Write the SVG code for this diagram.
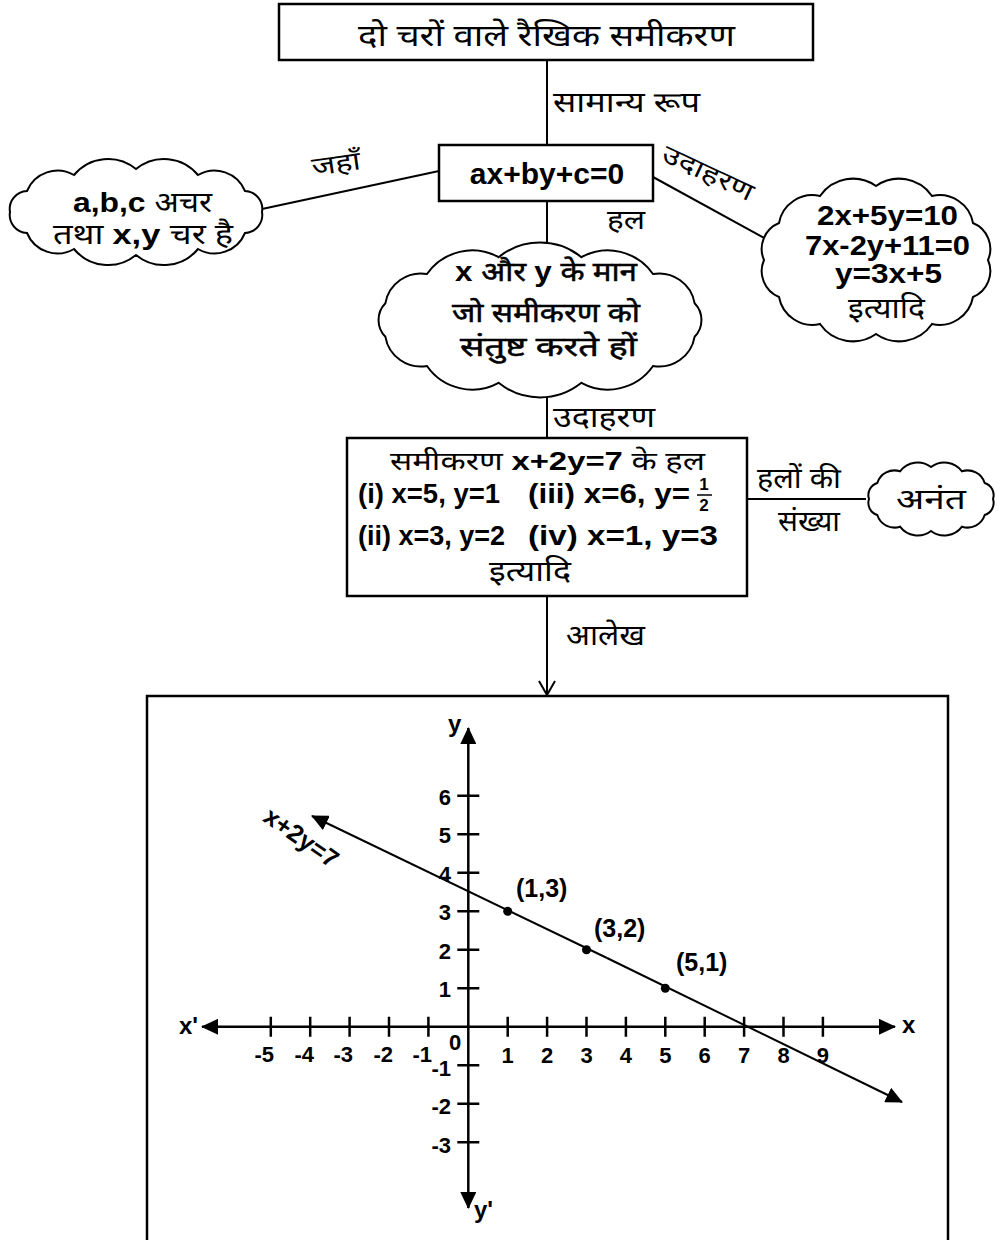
<svg xmlns="http://www.w3.org/2000/svg" width="1004" height="1240" viewBox="0 0 1004 1240">
<style>
.box{fill:#fff;stroke:#000;stroke-width:2.5}
.cloud{fill:#fff;stroke:#000;stroke-width:2}
.ln{stroke:#000;stroke-width:2;fill:none}
.ax{stroke:#000;stroke-width:2.5;fill:none}
.hi{font-family:"Noto Sans Devanagari","Lohit Devanagari","Noto Sans",sans-serif;fill:#000}
.hb{font-family:"Noto Sans Devanagari","Lohit Devanagari","Noto Sans",sans-serif;fill:#000;stroke:#000;stroke-width:0.5}
.la{font-family:"Liberation Sans",Arial,sans-serif;font-weight:bold;fill:#000}
.tk{font-family:"Liberation Sans",Arial,sans-serif;font-weight:bold;font-size:22px;fill:#000}
</style>
<defs>
<marker id="tri" viewBox="0 0 17 16" refX="16" refY="8" markerWidth="17" markerHeight="16" markerUnits="userSpaceOnUse" orient="auto">
<path d="M0,0 L17,8 L0,16 Z" fill="#000"/>
</marker>
</defs>

<g id="connectors">
<line class="ln" x1="547" y1="60" x2="547" y2="145"/>
<line class="ln" x1="439" y1="171" x2="262" y2="209"/>
<line class="ln" x1="653" y1="177" x2="768" y2="240"/>
<line class="ln" x1="547" y1="201" x2="547" y2="244"/>
<line class="ln" x1="547" y1="396" x2="547" y2="438"/>
<line class="ln" x1="747" y1="499" x2="866" y2="499"/>
<line class="ln" x1="547" y1="596" x2="547" y2="695"/>
<path class="ln" d="M539,681 L547,695 L555,681"/>
<text class="hi" x="553" y="112" font-size="28" textLength="147" lengthAdjust="spacingAndGlyphs">सामान्य रूप</text>
<text class="hi" x="313" y="176" font-size="26" textLength="49" lengthAdjust="spacingAndGlyphs" transform="rotate(-8 313 176)">जहाँ</text>
<text class="hi" x="660" y="160" font-size="25" textLength="98" lengthAdjust="spacingAndGlyphs" transform="rotate(25 660 160)">उदाहरण</text>
<text class="hi" x="607" y="229" font-size="27" textLength="38" lengthAdjust="spacingAndGlyphs">हल</text>
<text class="hi" x="553" y="427" font-size="28" textLength="102" lengthAdjust="spacingAndGlyphs">उदाहरण</text>
<text class="hi" x="757" y="488" font-size="28" textLength="84" lengthAdjust="spacingAndGlyphs">हलों की</text>
<text class="hi" x="778" y="531" font-size="28" textLength="62" lengthAdjust="spacingAndGlyphs">संख्या</text>
<text class="hi" x="566" y="645" font-size="28" textLength="79" lengthAdjust="spacingAndGlyphs">आलेख</text>
</g>

<g id="node-title">
<rect class="box" x="279" y="4" width="534" height="56"/>
<text class="hi" x="358" y="46" font-size="30" textLength="377" lengthAdjust="spacingAndGlyphs">दो चरों वाले रैखिक समीकरण</text>
</g>

<g id="node-general">
<rect class="box" x="439" y="145" width="214" height="56"/>
<text class="la" x="547" y="184" font-size="30" text-anchor="middle">ax+by+c=0</text>
</g>

<g id="node-where">
<path class="cloud" d="M10,212 A18,18 0 0 1 27,191 A33,33 0 0 1 74,175 A44,44 0 0 1 136,169 A44,44 0 0 1 198,175 A33,33 0 0 1 245,191 A18,18 0 0 1 262,212 A18,18 0 0 1 245,233 A33,33 0 0 1 198,249 A44,44 0 0 1 136,255 A44,44 0 0 1 74,249 A33,33 0 0 1 27,233 A18,18 0 0 1 10,212 Z"/>
<text x="73" y="212" font-size="28" textLength="139" lengthAdjust="spacingAndGlyphs"><tspan class="la">a,b,c </tspan><tspan class="hi">अचर</tspan></text>
<text x="53" y="244" font-size="28" textLength="180" lengthAdjust="spacingAndGlyphs"><tspan class="hi">तथा </tspan><tspan class="la"> x,y </tspan><tspan class="hi">चर है</tspan></text>
</g>

<g id="node-examples">
<path class="cloud" d="M764,260 A28,28 0 0 1 779,223 A34,34 0 0 1 820,196 A40,40 0 0 1 876,186 A40,40 0 0 1 932,196 A34,34 0 0 1 973,223 A28,28 0 0 1 988,260 A28,28 0 0 1 973,297 A34,34 0 0 1 932,324 A40,40 0 0 1 876,334 A40,40 0 0 1 820,324 A34,34 0 0 1 779,297 A28,28 0 0 1 764,260 Z"/>
<text class="la" x="817" y="225" font-size="28" textLength="141" lengthAdjust="spacingAndGlyphs">2x+5y=10</text>
<text class="la" x="805" y="255" font-size="28" textLength="165" lengthAdjust="spacingAndGlyphs">7x-2y+11=0</text>
<text class="la" x="835" y="283" font-size="28" textLength="107" lengthAdjust="spacingAndGlyphs">y=3x+5</text>
<text class="hi" x="848" y="318" font-size="28" textLength="77" lengthAdjust="spacingAndGlyphs">इत्यादि</text>
</g>

<g id="node-solution">
<path class="cloud" d="M385.4,303.2 A36,36 0 0 1 427,274 A55,55 0 0 1 498.6,257.2 A66,66 0 0 1 581.4,257.2 A55,55 0 0 1 653,274 A36,36 0 0 1 694.6,303.2 A24,24 0 0 1 694.6,336.8 A36,36 0 0 1 653,366 A55,55 0 0 1 581.4,382.8 A66,66 0 0 1 498.6,382.8 A55,55 0 0 1 427,366 A36,36 0 0 1 385.4,336.8 A24,24 0 0 1 385.4,303.2 Z"/>
<text x="455" y="281" font-size="27" textLength="182" lengthAdjust="spacingAndGlyphs"><tspan class="la">x </tspan><tspan class="hb">और </tspan><tspan class="la"> y </tspan><tspan class="hb">के मान</tspan></text>
<text class="hb" x="452" y="322" font-size="27" textLength="188" lengthAdjust="spacingAndGlyphs">जो समीकरण को</text>
<text class="hb" x="460" y="356" font-size="27" textLength="177" lengthAdjust="spacingAndGlyphs">संतुष्ट करते हों</text>
</g>

<g id="node-solutions-list">
<rect class="box" x="347" y="438" width="400" height="158"/>
<text x="390" y="470" font-size="26" textLength="315" lengthAdjust="spacingAndGlyphs"><tspan class="hi">समीकरण </tspan><tspan class="la">x+2y=7</tspan><tspan class="hi"> के हल</tspan></text>
<text class="la" x="358" y="503" font-size="27" textLength="142" lengthAdjust="spacingAndGlyphs">(i)  x=5, y=1</text>
<text class="la" x="528" y="503" font-size="27" textLength="162" lengthAdjust="spacingAndGlyphs">(iii) x=6, y=</text>
<text class="la" x="704" y="490" font-size="17" text-anchor="middle">1</text>
<line x1="697" y1="495" x2="712" y2="495" stroke="#000" stroke-width="1.5"/>
<text class="la" x="704" y="511" font-size="17" text-anchor="middle">2</text>
<text class="la" x="358" y="545" font-size="27" textLength="147" lengthAdjust="spacingAndGlyphs">(ii) x=3, y=2</text>
<text class="la" x="528" y="545" font-size="27" textLength="190" lengthAdjust="spacingAndGlyphs">(iv) x=1, y=3</text>
<text class="hi" x="489" y="581" font-size="28" textLength="82" lengthAdjust="spacingAndGlyphs">इत्यादि</text>
</g>

<g id="node-infinite">
<path class="cloud" d="M869,499 A12.6,12.6 0 0 1 877.3,483 A18,18 0 0 1 900,471.3 A22,22 0 0 1 931,467 A22,22 0 0 1 962,471.3 A18,18 0 0 1 984.7,483 A12.6,12.6 0 0 1 993,499 A12.6,12.6 0 0 1 984.7,515 A18,18 0 0 1 962,526.7 A22,22 0 0 1 931,531 A22,22 0 0 1 900,526.7 A18,18 0 0 1 877.3,515 A12.6,12.6 0 0 1 869,499 Z"/>
<text class="hi" x="896" y="509" font-size="28" textLength="70" lengthAdjust="spacingAndGlyphs">अनंत</text>
</g>

<g id="node-graph">
<rect class="box" x="147" y="696" width="801" height="560"/>
<line class="ax" x1="468.3" y1="1026.8" x2="895" y2="1026.8" marker-end="url(#tri)"/>
<line class="ax" x1="468.3" y1="1026.8" x2="202" y2="1026.8" marker-end="url(#tri)"/>
<line class="ax" x1="468.3" y1="1026.8" x2="468.3" y2="728" marker-end="url(#tri)"/>
<line class="ax" x1="468.3" y1="1026.8" x2="468.3" y2="1208" marker-end="url(#tri)"/>
<path class="ax" d="M270.8,1016.8v20 M310.2,1016.8v20 M349.6,1016.8v20 M389,1016.8v20 M428.4,1016.8v20 M507.7,1016.8v20 M547.1,1016.8v20 M586.5,1016.8v20 M625.9,1016.8v20 M665.3,1016.8v20 M704.7,1016.8v20 M744.1,1016.8v20 M783.5,1016.8v20 M822.9,1016.8v20"/>
<path class="ax" d="M457.3,988.3h22 M457.3,949.8h22 M457.3,911.3h22 M457.3,872.8h22 M457.3,834.3h22 M457.3,795.8h22 M457.3,1065.3h22 M457.3,1103.8h22 M457.3,1142.3h22"/>
<line class="ln" x1="607" y1="958" x2="312" y2="816" marker-end="url(#tri)"/>
<line class="ln" x1="607" y1="958" x2="902" y2="1102" marker-end="url(#tri)"/>
<circle cx="507.7" cy="911.3" r="4.5"/>
<circle cx="586.5" cy="949.8" r="4.5"/>
<circle cx="665.3" cy="988.3" r="4.5"/>
<text class="la" x="516" y="897" font-size="25">(1,3)</text>
<text class="la" x="594" y="937" font-size="25">(3,2)</text>
<text class="la" x="676" y="971" font-size="25">(5,1)</text>
<text class="la" font-size="25" text-anchor="middle" transform="translate(301,838) rotate(35)" y="8">x+2y=7</text>
<text class="la" x="902" y="1033" font-size="24">x</text>
<text class="la" x="179" y="1034" font-size="24">x'</text>
<text class="la" x="448" y="732" font-size="24">y</text>
<text class="la" x="474" y="1218" font-size="24">y'</text>
<text class="tk" x="449" y="1050">0</text>
<g class="tk" text-anchor="end">
<text x="451" y="805">6</text>
<text x="451" y="843">5</text>
<text x="451" y="882">4</text>
<text x="451" y="920">3</text>
<text x="451" y="959">2</text>
<text x="451" y="997">1</text>
<text x="451" y="1076">-1</text>
<text x="451" y="1114">-2</text>
<text x="451" y="1153">-3</text>
<text x="274" y="1062">-5</text>
<text x="314" y="1062">-4</text>
<text x="353" y="1062">-3</text>
<text x="393" y="1062">-2</text>
<text x="432" y="1062">-1</text>
</g>
<g class="tk" text-anchor="middle">
<text x="507.7" y="1063">1</text>
<text x="547.1" y="1063">2</text>
<text x="586.5" y="1063">3</text>
<text x="625.9" y="1063">4</text>
<text x="665.3" y="1063">5</text>
<text x="704.7" y="1063">6</text>
<text x="744.1" y="1063">7</text>
<text x="783.5" y="1063">8</text>
<text x="822.9" y="1063">9</text>
</g>
</g>
</svg>
